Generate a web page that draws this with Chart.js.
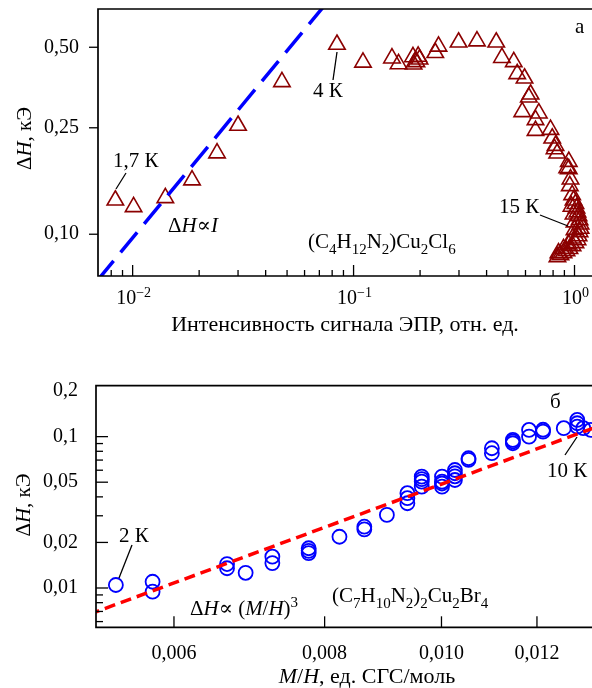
<!DOCTYPE html>
<html>
<head>
<meta charset="utf-8">
<script src="https://cdn.jsdelivr.net/npm/chart.js@4.4.1/dist/chart.umd.min.js"></script>
<style>
  body { margin: 0; background: #fff; }
  #wrap { position: relative; width: 592px; height: 688px; }
  canvas { position: absolute; left: 0; }
</style>
</head>
<body>
<div id="wrap">
  <canvas id="chartA" width="592" height="340" style="top:0"></canvas>
  <canvas id="chartB" width="592" height="348" style="top:340px"></canvas>
</div>
<script>
// Панель а: (C4H12N2)Cu2Cl6 — ширина линии от интенсивности сигнала ЭПР
const intensA = [0.00835, 0.0101, 0.01406, 0.01857, 0.0241, 0.0300, 0.0474, 0.0841, 0.1103,
  0.1492, 0.1598, 0.1857, 0.1869, 0.1989, 0.1925, 0.1960, 0.2343, 0.2424, 0.2987, 0.3618, 0.4423, 0.4694,
  0.531, 0.5504, 0.594, 0.6325, 0.621, 0.580, 0.6895, 0.6661, 0.666, 0.7788, 0.7927, 0.8206, 0.835, 0.812, 0.9423, 0.9267, 0.942,
  0.959, 0.952, 0.976,
  0.990, 1.010, 1.021, 1.032, 1.043, 1.054, 1.065, 1.065, 1.054, 1.043, 1.032, 1.010, 0.980, 0.949, 0.920, 0.892, 0.864, 0.837,
  0.969, 0.990, 1.000, 1.000, 0.980, 0.939, 0.892, 0.846];
const widthA = [0.134, 0.1265, 0.1367, 0.1593, 0.201, 0.255, 0.371, 0.512, 0.439,
  0.455, 0.433, 0.460, 0.432, 0.451, 0.441, 0.462, 0.477, 0.504, 0.522, 0.527, 0.522, 0.457,
  0.441, 0.3975, 0.383, 0.3337, 0.325, 0.2866, 0.2834, 0.2675, 0.2439, 0.246, 0.2285, 0.2144, 0.2008, 0.2084, 0.1868, 0.177, 0.1755,
  0.1606, 0.1516, 0.1403,
  0.134, 0.130, 0.125, 0.121, 0.117, 0.113, 0.109, 0.105, 0.102, 0.0985, 0.0952, 0.0928, 0.0905, 0.0882, 0.0866, 0.0851, 0.0837, 0.0822,
  0.127, 0.1188, 0.1110, 0.1038, 0.0966, 0.0918, 0.0882, 0.0851];
// прямая ΔH ∝ I (концы)
const fitIntensA = [0.0069, 0.075];
const fitWidthA = [0.0669, 0.7275];
const xMajorA = [0.01, 0.1, 1];
const xPowA = ['−2', '−1', '0'];
const xMinorA = [0.008, 0.009, 0.02, 0.03, 0.04, 0.05, 0.06, 0.07, 0.08, 0.09,
  0.2, 0.3, 0.4, 0.5, 0.6, 0.7, 0.8, 0.9];
const yTicksA = [0.1, 0.25, 0.5];
const yLabelsA = ['0,10', '0,25', '0,50'];

// Панель б: (C7H10N2)2Cu2Br4 — ширина линии от M/H
const mhB = [0.00537, 0.00576, 0.00576, 0.00664, 0.00664, 0.00688, 0.00724, 0.00724,
  0.00776, 0.00776, 0.00776, 0.00823, 0.00863, 0.00863, 0.00901,
  0.00937, 0.00937, 0.00937, 0.00963, 0.00963, 0.00963, 0.00963,
  0.01001, 0.01001, 0.01001, 0.01001, 0.01026, 0.01026, 0.01026, 0.01026,
  0.01053, 0.01053, 0.01101, 0.01101, 0.01146, 0.01146, 0.01146,
  0.01182, 0.01182, 0.01214, 0.01214, 0.01263, 0.01296, 0.01296, 0.01296, 0.01311, 0.0133];
const widthB = [0.01047, 0.0110, 0.00945, 0.0144, 0.0135, 0.0126, 0.0161, 0.0146,
  0.0183, 0.0176, 0.0170, 0.0218, 0.0244, 0.0254, 0.0304,
  0.0363, 0.0392, 0.0423, 0.0467, 0.0504, 0.0544, 0.0524,
  0.0467, 0.0490, 0.0504, 0.0544, 0.0517, 0.0547, 0.0573, 0.0602,
  0.0702, 0.0720, 0.0777, 0.0838, 0.0904, 0.0930, 0.0951,
  0.1000, 0.1107, 0.1079, 0.1110, 0.1137, 0.1289, 0.1226, 0.1165, 0.1137, 0.1107];
// прямая ΔH ∝ (M/H)^3 (концы)
const fitMhB = [0.0051, 0.0135];
const fitWidthB = [0.00669, 0.1174];
const xTicksB = [0.006, 0.008, 0.010, 0.012];
const xLabelsB = ['0,006', '0,008', '0,010', '0,012'];
const yTicksB = [0.01, 0.02, 0.05, 0.1, 0.2];
const yLabelsB = ['0,01', '0,02', '0,05', '0,1', '0,2'];
const yMarksB = [0.01, 0.02, 0.05, 0.1];
const yMinorB = [0.006, 0.007, 0.008, 0.009, 0.03, 0.04, 0.06, 0.07, 0.08, 0.09];

const SERIF = '"Liberation Serif", "Times New Roman", "DejaVu Serif", serif';
Chart.defaults.font.family = SERIF;
Chart.defaults.font.size = 20;
Chart.defaults.color = '#000';

// текст с курсивом, нижними и верхними индексами
function rich(ctx, parts, x, y, size, align) {
  const fontOf = st => {
    const small = st.includes('sub') || st.includes('sup');
    return (st.includes('i') ? 'italic ' : '') + (small ? Math.round(size * 0.72) : size) + 'px ' + SERIF;
  };
  let w = 0;
  parts.forEach(([t, st = '']) => { ctx.font = fontOf(st); w += ctx.measureText(t).width; });
  let cx = align === 'center' ? x - w / 2 : align === 'right' ? x - w : x;
  ctx.textAlign = 'left';
  ctx.textBaseline = 'alphabetic';
  ctx.fillStyle = '#000';
  parts.forEach(([t, st = '']) => {
    ctx.font = fontOf(st);
    const dy = st.includes('sub') ? size * 0.27 : st.includes('sup') ? -size * 0.36 : 0;
    ctx.fillText(t, cx, y + dy);
    cx += ctx.measureText(t).width;
  });
}

function frame(ctx, a) {
  ctx.beginPath();
  ctx.moveTo(a.right + 2, a.top);
  ctx.lineTo(a.left, a.top);
  ctx.lineTo(a.left, a.bottom);
  ctx.lineTo(a.right + 2, a.bottom);
  ctx.stroke();
}

function tickMarks(ctx, scale, values, len, inward) {
  const a = scale.chart.chartArea;
  values.forEach(v => {
    const p = scale.getPixelForValue(v);
    ctx.beginPath();
    if (scale.isHorizontal()) {
      ctx.moveTo(p, a.bottom);
      ctx.lineTo(p, a.bottom - len);
    } else {
      ctx.moveTo(a.left, p);
      ctx.lineTo(inward ? a.left + len : a.left - len, p);
    }
    ctx.stroke();
  });
}

function leader(ctx, x1, y1, x2, y2) {
  ctx.beginPath();
  ctx.moveTo(x1, y1);
  ctx.lineTo(x2, y2);
  ctx.stroke();
}

function yTitle(ctx, x, y) {
  ctx.save();
  ctx.translate(x, y);
  ctx.rotate(-Math.PI / 2);
  rich(ctx, [['Δ'], ['H', 'i'], [', кЭ']], 0, 0, 21, 'center');
  ctx.restore();
}

const panelA = {
  id: 'panelA',
  afterDraw(chart) {
    const ctx = chart.ctx, a = chart.chartArea, sx = chart.scales.x, sy = chart.scales.y;
    ctx.save();
    ctx.strokeStyle = '#000';
    ctx.lineWidth = 1.7;
    frame(ctx, a);
    ctx.lineWidth = 1.3;
    tickMarks(ctx, sx, xMajorA, 11, true);
    tickMarks(ctx, sx, xMinorA, 6, true);
    tickMarks(ctx, sy, yTicksA, 9, false);
    xMajorA.forEach((v, i) => rich(ctx, [['10'], [xPowA[i], 'sup']], sx.getPixelForValue(v) + 1, 304, 20, 'center'));
    yTitle(ctx, 31, 138.5);

    rich(ctx, [['1,7 К']], 113, 167, 21, 'left');
    leader(ctx, 126, 173, 116, 189);
    rich(ctx, [['4 К']], 313, 97, 21, 'left');
    leader(ctx, 333, 80, 337, 52);
    rich(ctx, [['15 К']], 499, 213, 21, 'left');
    leader(ctx, 540, 215, 568, 226);
    rich(ctx, [['Δ'], ['H', 'i'], ['∝'], ['I', 'i']], 168, 232, 21, 'left');
    rich(ctx, [['(C'], ['4', 'sub'], ['H'], ['12', 'sub'], ['N'], ['2', 'sub'], [')Cu'], ['2', 'sub'], ['Cl'], ['6', 'sub']],
      308, 248, 21, 'left');
    rich(ctx, [['а']], 575, 33, 21, 'left');
    ctx.restore();
  }
};

const panelB = {
  id: 'panelB',
  afterDraw(chart) {
    const ctx = chart.ctx, a = chart.chartArea, sx = chart.scales.x, sy = chart.scales.y;
    const o = 340; // смещение холста по вертикали
    ctx.save();
    ctx.strokeStyle = '#000';
    ctx.lineWidth = 1.7;
    frame(ctx, a);
    ctx.lineWidth = 1.3;
    tickMarks(ctx, sx, xTicksB, 11, true);
    tickMarks(ctx, sy, yMarksB, 12, true);
    tickMarks(ctx, sy, yMinorB, 7, true);
    yTitle(ctx, 30, 505 - o);
    rich(ctx, [['M', 'i'], ['/'], ['H', 'i'], [', ед. СГС/моль']], 367, 683 - o, 22, 'center');

    rich(ctx, [['2 К']], 119, 542 - o, 21, 'left');
    leader(ctx, 132, 545 - o, 119, 578 - o);
    rich(ctx, [['10 К']], 547, 477 - o, 21, 'left');
    leader(ctx, 565, 455 - o, 577, 437 - o);
    rich(ctx, [['б']], 550, 408 - o, 21, 'left');
    rich(ctx, [['Δ'], ['H', 'i'], ['∝'], [' ('], ['M', 'i'], ['/'], ['H', 'i'], [')'], ['3', 'sup']], 190, 615 - o, 21, 'left');
    rich(ctx, [['(C'], ['7', 'sub'], ['H'], ['10', 'sub'], ['N'], ['2', 'sub'], [')'], ['2', 'sub'], ['Cu'], ['2', 'sub'], ['Br'], ['4', 'sub']],
      332, 602 - o, 21, 'left');
    ctx.restore();
  }
};

const noGrid = { display: false };
const noBorder = { display: false };
// оси не добавляют своих отступов — область графика задаётся явно
const fitY = w => s => { s.width = w; s.paddingTop = 0; s.paddingBottom = 0; };
const fitX = h => s => { s.height = h; s.paddingLeft = 0; s.paddingRight = 0; };

new Chart(document.getElementById('chartA'), {
  type: 'scatter',
  data: {
    datasets: [{
      data: fitIntensA.map((x, i) => ({ x: x, y: fitWidthA[i] })),
      showLine: true,
      borderColor: '#0000ff',
      borderWidth: 3.5,
      borderDash: [26, 11],
      pointRadius: 0
    }, {
      data: intensA.map((x, i) => ({ x: x, y: widthA[i] })),
      pointStyle: 'triangle',
      pointRadius: 9.5,
      borderColor: '#8b0000',
      backgroundColor: 'rgba(0,0,0,0)',
      borderWidth: 1.6
    }]
  },
  options: {
    responsive: false,
    animation: false,
    events: [],
    layout: { autoPadding: false, padding: { top: 9, left: 0, right: 0, bottom: 0 } },
    plugins: { legend: { display: false }, tooltip: { enabled: false } },
    scales: {
      x: {
        type: 'logarithmic', min: 0.00697, max: 1.2,
        grid: noGrid, border: noBorder,
        ticks: { display: false },
        afterFit: fitX(64),
        title: { display: true, text: 'Интенсивность сигнала ЭПР, отн. ед.', font: { size: 22 }, padding: { top: 0, bottom: 2 } }
      },
      y: {
        type: 'logarithmic', min: 0.0698, max: 0.695,
        grid: noGrid, border: noBorder,
        afterBuildTicks: s => { s.ticks = yTicksA.map(v => ({ value: v })); },
        afterFit: fitY(98),
        ticks: { padding: 11, autoSkip: false, callback: (v, i) => yLabelsA[i] }
      }
    }
  },
  plugins: [panelA]
});

new Chart(document.getElementById('chartB'), {
  type: 'scatter',
  data: {
    datasets: [{
      data: fitMhB.map((x, i) => ({ x: x, y: fitWidthB[i] })),
      showLine: true,
      borderColor: '#ff0000',
      borderWidth: 3.5,
      borderDash: [11, 6],
      pointRadius: 0
    }, {
      data: mhB.map((x, i) => ({ x: x, y: widthB[i] })),
      pointStyle: 'circle',
      pointRadius: 7,
      borderColor: '#0000ff',
      backgroundColor: 'rgba(0,0,0,0)',
      borderWidth: 1.8
    }]
  },
  options: {
    responsive: false,
    animation: false,
    events: [],
    layout: { autoPadding: false, padding: { top: 45.7, left: 0, right: 0, bottom: 0 } },
    plugins: { legend: { display: false }, tooltip: { enabled: false } },
    scales: {
      x: {
        type: 'logarithmic', min: 0.00517, max: 0.01333,
        grid: noGrid, border: noBorder,
        afterBuildTicks: s => { s.ticks = xTicksB.map(v => ({ value: v })); },
        afterFit: fitX(60.7),
        ticks: { padding: 6, autoSkip: false, maxRotation: 0, callback: (v, i) => xLabelsB[i] }
      },
      y: {
        type: 'logarithmic', min: 0.0055, max: 0.217,
        grid: noGrid, border: noBorder,
        afterBuildTicks: s => { s.ticks = yTicksB.map(v => ({ value: v })); },
        afterFit: fitY(96),
        ticks: { padding: 10, autoSkip: false, callback: (v, i) => yLabelsB[i] }
      }
    }
  },
  plugins: [panelB]
});
</script>
</body>
</html>
